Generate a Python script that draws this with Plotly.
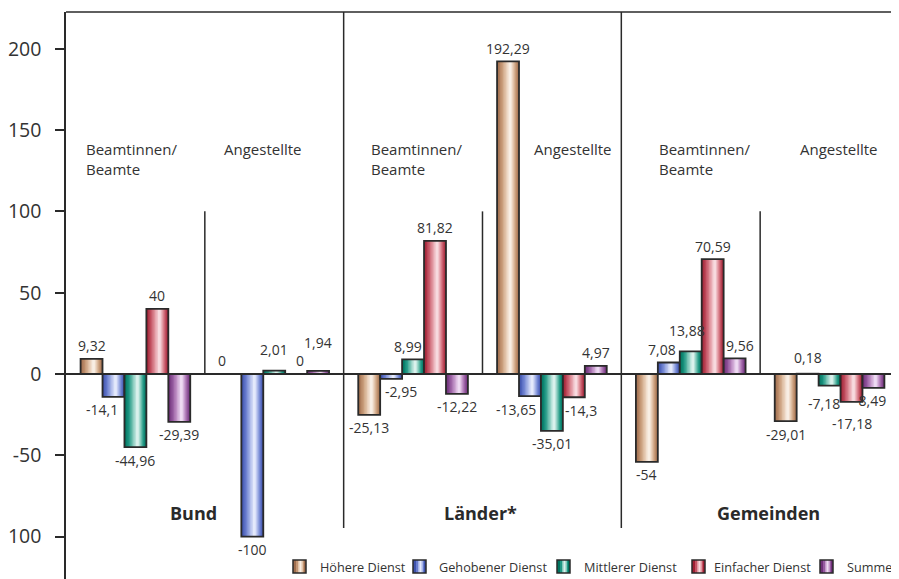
import plotly.graph_objects as go

# ---------------- data ----------------
groups = ["Bund Beamte", "Bund Angestellte", "Länder Beamte",
          "Länder Angestellte", "Gemeinden Beamte", "Gemeinden Angestellte"]
series_names = ["Höhere Dienst", "Gehobener Dienst", "Mittlerer Dienst",
                "Einfacher Dienst", "Summe"]
hoehere = [9.32, 0, -25.13, 192.29, -54, -29.01]
gehobener = [-14.1, -100, -2.95, -13.65, 7.08, 0.18]
mittlerer = [-44.96, 2.01, 8.99, -35.01, 13.88, -7.18]
einfacher = [40, 0, 81.82, -14.3, 70.59, -17.18]
summe = [-29.39, 1.94, -12.22, 4.97, 9.56, -8.49]
series_values = [hoehere, gehobener, mittlerer, einfacher, summe]

tick_vals = [200, 150, 100, 50, 0, -50, -100]
tick_text = ["200", "150", "100", "50", "0", "-50", "100"]

# ---------------- styling ----------------
palettes = [
    [(160, 110, 78), (196, 150, 115), (226, 196, 170), (248, 238, 228)],   # tan
    [(62, 82, 172), (104, 124, 206), (166, 180, 231), (228, 233, 251)],    # blue
    [(0, 116, 96), (32, 152, 132), (128, 200, 185), (218, 241, 236)],     # teal
    [(160, 32, 52), (196, 84, 100), (226, 150, 160), (247, 218, 223)],     # red
    [(112, 48, 122), (150, 90, 160), (196, 150, 201), (238, 218, 242)],    # purple
]
N_LAYERS = 9
# label offsets in pixels (dx right, dy down) to mimic the reference placement
label_shift = {
    (1, 0): (-11, 0), (0, 1): (-8, 0), (2, 1): (0, -8), (3, 1): (4, 0), (4, 1): (0, -15),
    (1, 2): (10, 0), (2, 2): (-5, 0),
    (1, 3): (-14, 0), (3, 3): (7, 0),
    (1, 4): (-7, 0), (2, 4): (-4, -8), (4, 4): (5, 0),
    (1, 5): (0, -3), (2, 5): (-6, 5), (3, 5): (0, 9), (4, 5): (-3, 0),
}

rgb = lambda c: "rgb(%d,%d,%d)" % tuple(int(round(v)) for v in c)
DARK = "#2a2a2a"


def interp(pal, t):
    seg = min(int(t * 3), 2)
    lt = t * 3 - seg
    a, b = pal[seg], pal[seg + 1]
    return tuple(a[k] + (b[k] - a[k]) * lt for k in range(3))


group_w = 0.79
slot = group_w / 5
x_idx = list(range(len(groups)))


def fmt(v):
    return ("%g" % v).replace(".", ",")


# page geometry (browser body margin of 8px; figure limited to 883px wide)
OFF = 8
L, T, R, B = 66, 12, 891, 579          # plot-area edges in page pixels
PW, PH = R - L, B - T
PX_PER_CAT = 138.83
PX_PER_UNIT = 1.6262
Y1 = 222.6
Y0 = Y1 - PH / PX_PER_UNIT
X0 = -0.5
X1 = X0 + PW / PX_PER_CAT

fig = go.Figure()
annotations = []
lab_font = dict(family="Open Sans", size=14, color="#333333")
for i, (name, vals) in enumerate(zip(series_names, series_values)):
    slot_left = -group_w / 2 + i * slot
    for j in range(N_LAYERS):
        t = j / (N_LAYERS - 1)
        wf = 1.0 - 0.88 * t
        sh = 0.09 * t
        w = slot * wf
        center = slot_left + slot / 2 + sh * slot
        fig.add_trace(go.Bar(
            x=x_idx, y=vals, name=name, showlegend=False,
            width=w, offset=center - w / 2,
            marker=dict(color=rgb(interp(palettes[i], t)), line=dict(width=0)),
            hoverinfo="skip",
        ))
    fig.add_trace(go.Bar(
        x=x_idx, y=vals, name=name, showlegend=False,
        width=slot, offset=slot_left,
        marker=dict(color="rgba(0,0,0,0)", line=dict(color=DARK, width=1.8)),
    ))
    for g, v in enumerate(vals):
        dx, dy = label_shift.get((i, g), (0, 0))
        up = v >= 0
        annotations.append(dict(
            x=g + slot_left + slot / 2, y=v, xref="x", yref="y", text=fmt(v),
            showarrow=False, xanchor="center", yanchor="middle",
            xshift=dx, yshift=(13 if up else -13) - dy, font=lab_font))

shapes = []
shapes.append(dict(type="line", xref="paper", yref="paper", x0=0, x1=1, y0=1, y1=1,
                   line=dict(color=DARK, width=1.5)))
for xd in [1.5, 3.5]:
    shapes.append(dict(type="line", xref="x", yref="y", x0=xd, x1=xd, y0=-94.7, y1=Y1,
                       line=dict(color=DARK, width=1.5)))
for xd in [0.5, 2.5, 4.5]:
    shapes.append(dict(type="line", xref="x", yref="y", x0=xd, x1=xd, y0=0, y1=100,
                       line=dict(color=DARK, width=1.5)))

hdr_font = dict(family="Open Sans", size=15, color="#333333")
for xd in [-0.37, 1.683, 3.757]:
    annotations.append(dict(x=xd, y=132.5, xref="x", yref="y", text="Beamtinnen/<br>Beamte",
                            showarrow=False, xanchor="left", yanchor="middle", align="left",
                            font=hdr_font))
for xd in [0.624, 2.857, 4.773]:
    annotations.append(dict(x=xd, y=138.4, xref="x", yref="y", text="Angestellte",
                            showarrow=False, xanchor="left", yanchor="middle", font=hdr_font))
for xd, t in [(0.415, "Bund"), (2.489, "Länder*"), (4.557, "Gemeinden")]:
    annotations.append(dict(x=xd, y=-85.3, xref="x", yref="y", text="<b>%s</b>" % t,
                            showarrow=False, xanchor="center", yanchor="middle",
                            font=dict(family="Open Sans", size=18, color="#2a2a2a")))

px = lambda p: (p - L) / PW
py = lambda p: (B - p) / PH
box_x = [293, 413, 557, 692, 820]
text_x = [318, 437, 582, 712, 845]
for i, name in enumerate(series_names):
    x0, x1 = box_x[i], box_x[i] + 13
    y0, y1 = 573, 560
    pal = palettes[i]
    shapes.append(dict(type="rect", xref="paper", yref="paper", x0=px(x0), x1=px(x1),
                       y0=py(y0), y1=py(y1), fillcolor=rgb(pal[0]), line=dict(width=0)))
    shapes.append(dict(type="rect", xref="paper", yref="paper", x0=px(x0 + 3), x1=px(x0 + 11),
                       y0=py(y0), y1=py(y1), fillcolor=rgb(pal[1]), line=dict(width=0)))
    shapes.append(dict(type="rect", xref="paper", yref="paper", x0=px(x0 + 5), x1=px(x0 + 10),
                       y0=py(y0), y1=py(y1), fillcolor=rgb(pal[2]), line=dict(width=0)))
    shapes.append(dict(type="rect", xref="paper", yref="paper", x0=px(x0 + 6.5), x1=px(x0 + 8.5),
                       y0=py(y0), y1=py(y1), fillcolor=rgb(pal[3]), line=dict(width=0)))
    shapes.append(dict(type="rect", xref="paper", yref="paper", x0=px(x0), x1=px(x1),
                       y0=py(y0), y1=py(y1), fillcolor="rgba(0,0,0,0)",
                       line=dict(color=DARK, width=1.5)))
    annotations.append(dict(x=px(text_x[i]), y=py(566.5), xref="paper", yref="paper",
                            text=name, showarrow=False, xanchor="left", yanchor="middle",
                            font=dict(family="Open Sans", size=12.7, color="#333333")))

fig.update_layout(
    width=R - OFF, height=B - OFF,
    margin=dict(l=L - OFF, r=0, t=T - OFF, b=0, autoexpand=False),
    paper_bgcolor="white", plot_bgcolor="white",
    barmode="overlay",
    showlegend=False,
    shapes=shapes, annotations=annotations,
    xaxis=dict(range=[X0, X1], showticklabels=False, showgrid=False,
               zeroline=False, showline=False, ticks=""),
    yaxis=dict(range=[Y0, Y1], tickvals=tick_vals, ticktext=tick_text,
               showgrid=False, zeroline=True, zerolinecolor=DARK, zerolinewidth=1.5,
               showline=True, linecolor=DARK, linewidth=1.5,
               ticks="outside", ticklen=9, tickwidth=1.5, tickcolor=DARK,
               ticklabelstandoff=10,
               tickfont=dict(family="Open Sans", size=19.5, color="#333333")),
)

fig.write_html("out.html")
